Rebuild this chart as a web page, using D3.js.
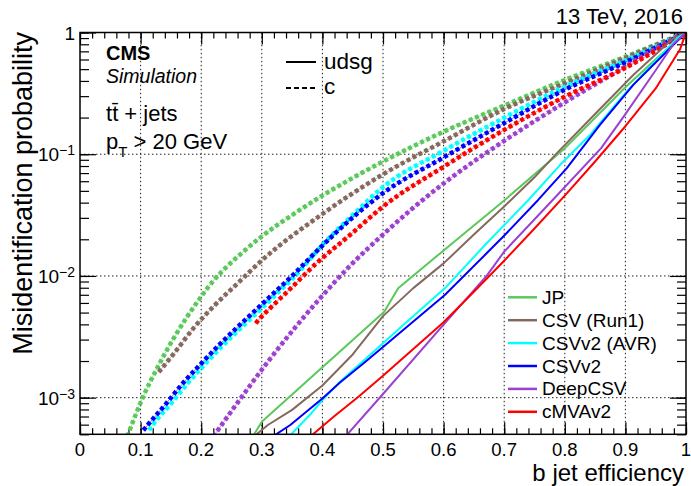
<!DOCTYPE html>
<html>
<head>
<meta charset="utf-8">
<script src="https://cdn.jsdelivr.net/npm/d3@7"></script>
<style>
body { margin: 0; background: #fff; }
text { font-family: "Liberation Sans", Arial, sans-serif; fill: #000; }
</style>
</head>
<body>
<div id="chart"></div>
<script>
// taggers in legend order
const taggers = ["JP", "CSV (Run1)", "CSVv2 (AVR)", "CSVv2", "DeepCSV", "cMVAv2"];
const colors = ["#5ac85a", "#85695e", "#00ffff", "#0000ff", "#9b40d0", "#ff0000"];

// udsg misidentification vs b jet efficiency, [eff, prob]
const jpUdsg = [[0.285, 4.79e-4], [0.30, 6.34e-4], [0.40, 1.78e-3], [0.502, 5.08e-3], [0.525, 7.91e-3], [0.60, 0.0162], [0.70, 0.0417], [0.80, 0.112], [0.90, 0.355], [0.95, 0.603], [1.0, 1.0]];
const csvUdsg = [[0.287, 4.79e-4], [0.31, 5.96e-4], [0.35, 7.94e-4], [0.40, 1.259e-3], [0.45, 2.265e-3], [0.50, 4.677e-3], [0.55, 7.94e-3], [0.60, 0.01268], [0.65, 0.02188], [0.70, 0.03715], [0.75, 0.06457], [0.7866, 0.1016], [0.85, 0.2138], [0.913, 0.4477], [0.979, 0.8954], [1.0, 1.0]];
const avrUdsg = [[0.345, 4.79e-4], [0.3795, 7.24e-4], [0.40, 9.55e-4], [0.429, 1.352e-3], [0.50, 2.793e-3], [0.5335, 3.954e-3], [0.602, 7.91e-3], [0.671, 0.01854], [0.74, 0.04207], [0.792, 0.08147], [0.8416, 0.1439], [0.902, 0.3266], [0.985, 0.8954], [1.0, 1.0]];
const csvv2Udsg = [[0.318, 4.79e-4], [0.347, 5.96e-4], [0.40, 9.86e-4], [0.429, 1.33e-3], [0.4675, 1.91e-3], [0.5005, 2.62e-3], [0.602, 6.97e-3], [0.671, 0.01535], [0.701, 0.0217], [0.756, 0.0421], [0.803, 0.0766], [0.858, 0.174], [0.913, 0.371], [0.979, 0.789], [1.0, 1.0]];
const deepUdsg = [[0.438, 4.79e-4], [0.50, 1.072e-3], [0.60, 3.98e-3], [0.671, 0.01], [0.70, 0.01585], [0.78, 0.04207], [0.86, 0.1122], [0.90, 0.2138], [0.95, 0.4898], [0.98, 0.8128], [1.0, 1.0]];
const cmvaUdsg = [[0.38, 4.79e-4], [0.42, 7.08e-4], [0.46, 1.023e-3], [0.50, 1.514e-3], [0.55, 2.512e-3], [0.60, 4.169e-3], [0.65, 7.41e-3], [0.70, 0.01334], [0.75, 0.02455], [0.80, 0.04571], [0.85, 0.0871], [0.90, 0.1698], [0.95, 0.3467], [0.99, 0.7244], [1.0, 1.0]];

// c misidentification vs b jet efficiency, [eff, prob]
const jpC = [[0.078, 4.79e-4], [0.1035, 1.0e-3], [0.127, 1.738e-3], [0.154, 3.041e-3], [0.176, 4.56e-3], [0.198, 6.561e-3], [0.22, 9.12e-3], [0.242, 0.01189], [0.264, 0.01496], [0.30, 0.02113], [0.35, 0.03162], [0.40, 0.04571], [0.45, 0.06383], [0.50, 0.0871], [0.60, 0.1531], [0.70, 0.2512], [0.80, 0.4074], [0.90, 0.6324], [0.95, 0.7943], [1.0, 1.0]];
const csvC = [[0.13, 1.622e-3], [0.156, 2.339e-3], [0.187, 3.707e-3], [0.221, 5.662e-3], [0.26, 8.69e-3], [0.30, 0.01343], [0.40, 0.03228], [0.50, 0.06839], [0.60, 0.1276], [0.70, 0.235], [0.80, 0.382], [0.90, 0.6166], [0.95, 0.7852], [1.0, 1.0]];
const avrC = [[0.114, 5.4e-4], [0.121, 6.07e-4], [0.15, 8.91e-4], [0.178, 1.318e-3], [0.207, 1.905e-3], [0.237, 2.723e-3], [0.267, 3.802e-3], [0.297, 5.248e-3], [0.326, 7.244e-3], [0.355, 0.01], [0.40, 0.01799], [0.45, 0.03162], [0.50, 0.0537], [0.60, 0.1069], [0.70, 0.1995], [0.80, 0.3589], [0.90, 0.5888], [1.0, 1.0]];
const csvv2C = [[0.1045, 5.4e-4], [0.113, 6.07e-4], [0.142, 8.91e-4], [0.17, 1.318e-3], [0.20, 1.905e-3], [0.23, 2.723e-3], [0.26, 3.802e-3], [0.29, 5.248e-3], [0.32, 7.244e-3], [0.35, 0.01], [0.40, 0.01778], [0.45, 0.0302], [0.50, 0.04786], [0.60, 0.09419], [0.70, 0.1803], [0.80, 0.3388], [0.90, 0.5689], [1.0, 1.0]];
const deepC = [[0.22, 4.79e-4], [0.25, 7.76e-4], [0.28, 1.245e-3], [0.31, 1.972e-3], [0.345, 3.273e-3], [0.395, 6.457e-3], [0.45, 0.01274], [0.50, 0.02188], [0.55, 0.03631], [0.60, 0.05754], [0.70, 0.1288], [0.80, 0.2667], [0.90, 0.5248], [0.95, 0.7413], [1.0, 1.0]];
const cmvaC = [[0.29, 4.074e-3], [0.2955, 4.395e-3], [0.3135, 5.42e-3], [0.342, 7.413e-3], [0.39, 0.01268], [0.4455, 0.02168], [0.50, 0.03715], [0.60, 0.07889], [0.70, 0.1585], [0.80, 0.2972], [0.90, 0.5129], [0.95, 0.7079], [1.0, 1.0]];

const udsgCurves = [jpUdsg, csvUdsg, avrUdsg, csvv2Udsg, deepUdsg, cmvaUdsg];
const cCurves = [jpC, csvC, avrC, csvv2C, deepC, cmvaC];

// axis ticks
const xTicks = [0, 0.1, 0.2, 0.3, 0.4, 0.5, 0.6, 0.7, 0.8, 0.9, 1];
const xTickLabels = ["0", "0.1", "0.2", "0.3", "0.4", "0.5", "0.6", "0.7", "0.8", "0.9", "1"];
const yDecades = [1, 0.1, 0.01, 0.001];
const yExponents = ["", "\u22121", "\u22122", "\u22123"];

const W = 691, H = 486;
const margin = {top: 32.5, right: 5, bottom: 51.7, left: 80};
const x0 = margin.left, x1 = W - margin.right;
const y0 = H - margin.bottom, y1 = margin.top;

const svg = d3.select("#chart").append("svg")
    .attr("width", W)
    .attr("height", H);

const xScale = d3.scaleLinear().domain([0, 1]).range([x0, x1]);
const yScale = d3.scaleLog().domain([5e-4, 1]).range([y0, y1]);

// grid
svg.append("g").selectAll("line")
    .data(xTicks.slice(1, -1))
    .enter().append("line")
    .attr("x1", d => xScale(d)).attr("x2", d => xScale(d))
    .attr("y1", y0).attr("y2", y1)
    .attr("stroke", "#222").attr("stroke-width", 1).attr("stroke-dasharray", "1.5,2.5");
svg.append("g").selectAll("line")
    .data(yDecades.slice(1))
    .enter().append("line")
    .attr("y1", d => yScale(d)).attr("y2", d => yScale(d))
    .attr("x1", x0).attr("x2", x1)
    .attr("stroke", "#222").attr("stroke-width", 1).attr("stroke-dasharray", "1.5,2.5");

// axes with inward ticks on all four sides
const xMinor = d3.range(0, 1.001, 0.02);
const yMinor = yScale.ticks();
function cleanAxis(g) {
    g.select(".domain").remove();
    g.selectAll("line").attr("stroke", "#000").attr("stroke-width", 1.2);
}
svg.append("g").attr("transform", `translate(0,${y0})`)
    .call(d3.axisBottom(xScale).tickValues(xMinor).tickSize(-6).tickFormat("")).call(cleanAxis);
svg.append("g").attr("transform", `translate(0,${y0})`)
    .call(d3.axisBottom(xScale).tickValues(xTicks).tickSize(-12).tickFormat("")).call(cleanAxis);
svg.append("g").attr("transform", `translate(0,${y1})`)
    .call(d3.axisTop(xScale).tickValues(xMinor).tickSize(-6).tickFormat("")).call(cleanAxis);
svg.append("g").attr("transform", `translate(0,${y1})`)
    .call(d3.axisTop(xScale).tickValues(xTicks).tickSize(-12).tickFormat("")).call(cleanAxis);
svg.append("g").attr("transform", `translate(${x0},0)`)
    .call(d3.axisLeft(yScale).tickValues(yMinor).tickSize(-9).tickFormat("")).call(cleanAxis);
svg.append("g").attr("transform", `translate(${x0},0)`)
    .call(d3.axisLeft(yScale).tickValues(yDecades).tickSize(-16).tickFormat("")).call(cleanAxis);
svg.append("g").attr("transform", `translate(${x1},0)`)
    .call(d3.axisRight(yScale).tickValues(yMinor).tickSize(-9).tickFormat("")).call(cleanAxis);
svg.append("g").attr("transform", `translate(${x1},0)`)
    .call(d3.axisRight(yScale).tickValues(yDecades).tickSize(-16).tickFormat("")).call(cleanAxis);

// tick labels
svg.append("g").selectAll("text")
    .data(xTicks)
    .enter().append("text")
    .attr("x", d => xScale(d)).attr("y", 455.5)
    .attr("text-anchor", "middle").attr("font-size", 18.5)
    .text((d, i) => xTickLabels[i]);

yDecades.forEach((d, i) => {
    const t = svg.append("text")
        .attr("x", 75).attr("y", yScale(d) + 7)
        .attr("text-anchor", "end").attr("font-size", 19);
    if (yExponents[i] === "") {
        t.text("1");
    } else {
        t.append("tspan").text("10");
        t.append("tspan").attr("font-size", 14).attr("dy", -6).text(yExponents[i]);
    }
});

// curves
svg.append("clipPath").attr("id", "plotclip")
    .append("rect").attr("x", x0).attr("y", y1).attr("width", x1 - x0).attr("height", y0 - y1);
const lineSmooth = d3.line()
    .x(d => xScale(d[0]))
    .y(d => yScale(d[1]))
    .curve(d3.curveMonotoneX);
const lineStraight = d3.line()
    .x(d => xScale(d[0]))
    .y(d => yScale(d[1]));
const curves = svg.append("g").attr("clip-path", "url(#plotclip)");

cCurves.forEach((c, i) => {
    curves.append("path").attr("d", lineSmooth(c))
        .attr("fill", "none").attr("stroke", colors[i]).attr("stroke-width", 1).attr("opacity", 0.5);
    curves.append("path").attr("d", lineSmooth(c))
        .attr("fill", "none").attr("stroke", colors[i]).attr("stroke-width", 4.5)
        .attr("stroke-dasharray", "4,2.7");
});
udsgCurves.forEach((c, i) => {
    curves.append("path").attr("d", lineStraight(c))
        .attr("fill", "none").attr("stroke", colors[i]).attr("stroke-width", 2)
        .attr("stroke-linejoin", "round");
});

// frame
svg.append("rect").attr("x", x0).attr("y", y1).attr("width", x1 - x0).attr("height", y0 - y1)
    .attr("fill", "none").attr("stroke", "#000").attr("stroke-width", 1.5);

// axis titles
svg.append("text").attr("x", 684).attr("y", 480.5)
    .attr("text-anchor", "end").attr("font-size", 24).text("b jet efficiency");
svg.append("text").attr("transform", "translate(32,32) rotate(-90)")
    .attr("text-anchor", "end").attr("font-size", 27).text("Misidentification probability");

// header and labels
svg.append("text").attr("x", 683).attr("y", 24)
    .attr("text-anchor", "end").attr("font-size", 22).text("13 TeV, 2016");
svg.append("text").attr("x", 106).attr("y", 60)
    .attr("font-size", 20).attr("font-weight", "bold").text("CMS");
svg.append("text").attr("x", 106).attr("y", 83)
    .attr("font-size", 19.5).attr("font-style", "italic").text("Simulation");
const tt = svg.append("text").attr("x", 106).attr("y", 121).attr("font-size", 22);
tt.append("tspan").text("t");
tt.append("tspan").text("t\u0304");
tt.append("tspan").text(" + jets");
const pt = svg.append("text").attr("x", 106).attr("y", 149).attr("font-size", 22);
pt.append("tspan").text("p");
pt.append("tspan").attr("font-size", 15).attr("dy", 8).text("T");
pt.append("tspan").attr("dy", -8).text(" > 20 GeV");

// line style legend
svg.append("line").attr("x1", 286).attr("x2", 316).attr("y1", 62).attr("y2", 62)
    .attr("stroke", "#000").attr("stroke-width", 2);
svg.append("text").attr("x", 324).attr("y", 69).attr("font-size", 22.5).text("udsg");
svg.append("line").attr("x1", 286).attr("x2", 316).attr("y1", 88).attr("y2", 88)
    .attr("stroke", "#000").attr("stroke-width", 2).attr("stroke-dasharray", "5,3");
svg.append("text").attr("x", 324).attr("y", 94).attr("font-size", 22.5).text("c");

// tagger legend
const leg = svg.append("g").selectAll("g")
    .data(taggers)
    .enter().append("g")
    .attr("transform", (d, i) => `translate(508,${297.3 + i * 22.9})`);
leg.append("line").attr("x1", 0).attr("x2", 29)
    .attr("stroke", (d, i) => colors[i]).attr("stroke-width", 2.5);
leg.append("text").attr("x", 34).attr("y", 6.5).attr("font-size", 19).text(d => d);
</script>
</body>
</html>
